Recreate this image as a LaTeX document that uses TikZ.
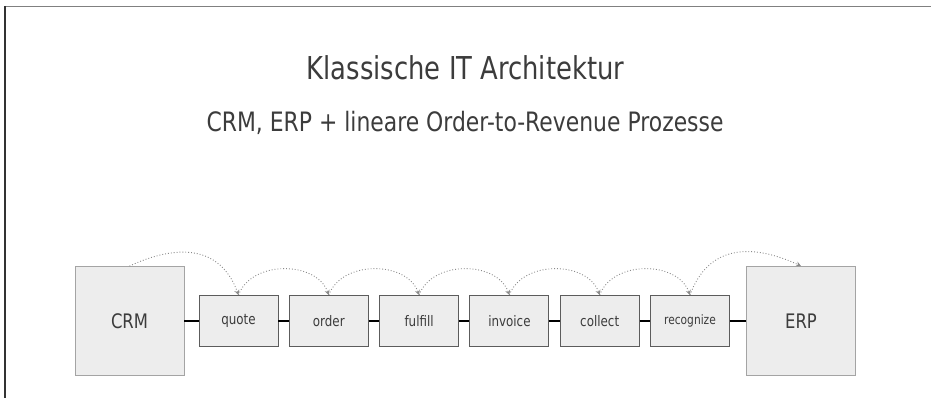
\documentclass[tikz,border=0pt]{standalone}
\usepackage{fontspec}
\setmainfont[FakeStretch=0.82]{DejaVu Sans}
\usepackage{tikz}
\usetikzlibrary{arrows.meta}

\definecolor{txt}{HTML}{3C3C3C}
\definecolor{boxfill}{HTML}{EDEDED}
\definecolor{sysline}{HTML}{A4A4A4}
\definecolor{procline}{HTML}{5C5C5C}
\definecolor{flowgray}{HTML}{8A8A8A}

\begin{document}
\begin{tikzpicture}[x=1pt,y=1pt,
    sys/.style={draw=sysline,fill=boxfill,line width=0.9,minimum width=109,
      minimum height=109,inner sep=0,text=txt,font=\fontsize{20}{24}\selectfont},
    proc/.style={draw=procline,fill=boxfill,line width=0.9,minimum width=79,
      minimum height=51,inner sep=0,text=txt},
    link/.style={line width=1.6,black},
    flow/.style={flowgray,line width=0.9,dotted,-{Stealth[length=5pt,width=5pt]}}]
  \useasboundingbox (0,0) rectangle (931,398);
  % frame
  \draw[gray,line width=1.4] (5,391.5) -- (931,391.5);
  \draw[black!80,line width=1.4] (5,392.2) -- (5,0);
  % headings
  \node[anchor=base,text=txt,font=\fontsize{31.5}{36}\selectfont] (head) at (465.5,318)
    {Klassische IT Architektur};
  \node[anchor=base,text=txt,font=\fontsize{26.7}{32}\selectfont] (sub) at (465,266)
    {CRM, ERP + lineare Order-to-Revenue Prozesse};
  % systems and process steps
  \node[sys] (crm) at (129.5,77) {CRM};
  \node[sys] (erp) at (801,77) {ERP};
  \foreach \name/\fs [count=\i] in {quote/14.5,order/14.5,fulfill/14.5,
      invoice/14.5,collect/14.5,recognize/13}
    \node[proc,font=\fontsize{\fs}{16}\selectfont] (p\i) at (148.2+90.3*\i,77) {\name};
  % chain
  \draw[link] (crm) -- (p1);
  \foreach \i [evaluate=\i as \j using int(\i+1)] in {1,...,5}
    \draw[link] (p\i) -- (p\j);
  \draw[link] (p6) -- (erp);
  % hand-over arcs
  \draw[flow] (crm.north) to[out=25,in=110,looseness=1.2] (p1.north);
  \foreach \i [evaluate=\i as \j using int(\i+1)] in {1,...,5}
    \draw[flow] (p\i.north) to[out=70,in=110,looseness=1.05] (p\j.north);
  \draw[flow] (p6.north) to[out=70,in=155,looseness=1.2] (erp.north);
\end{tikzpicture}
\end{document}
